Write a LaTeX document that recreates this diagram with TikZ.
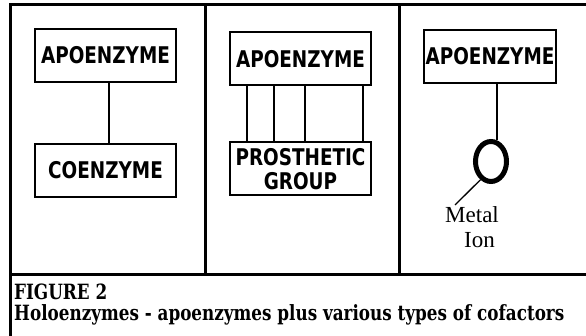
\documentclass[tikz,border=0pt]{standalone}
\usepackage{fontspec}
\newfontfamily\capfont[FakeStretch=0.8]{DejaVu Serif}
\newfontfamily\boxfont[FakeStretch=0.8]{DejaVu Sans}
\newfontfamily\ionfont{Liberation Serif}
\usetikzlibrary{shapes.geometric}

\begin{document}
\begin{tikzpicture}[x=1pt, y=-1pt,
    enzbox/.style={draw, line width=2pt, minimum width=141pt, minimum height=53pt, inner sep=0pt, align=center, font=\boxfont\bfseries\fontsize{23}{24}\selectfont},
    plain/.style={inner sep=0pt},
    link/.style={line width=2pt}]
  \useasboundingbox (0,0) rectangle (586,336);
  % frame and panels
  \draw[line width=3pt] (586,4.5) -- (10.5,4.5) -- (10.5,336);
  \draw[line width=3pt] (10.5,275) -- (586,275);
  \draw[line width=3pt] (205,4.5) -- (205,275);
  \draw[line width=3pt] (399,4.5) -- (399,275);

  % coenzyme
  \node[enzbox] (apo1) at (105.5,55.5) {APOENZYME};
  \node[enzbox, below of=apo1, node distance=115pt] (coenz) {COENZYME};
  \draw[link] (apo1.south -| 109,0) -- (coenz.north -| 109,0);

  % prosthetic group
  \node[enzbox] (apo2) at (300.5,59) {APOENZYME};
  \node[enzbox, below of=apo2, node distance=110pt] (pros) {PROSTHETIC\\GROUP};
  \foreach \x in {247,274,305,363}
    \draw[link] (apo2.south -| \x,0) -- (pros.north -| \x,0);

  % metal ion
  \node[enzbox, minimum width=132pt] (apo3) at (490,56.5) {APOENZYME};
  \node[ellipse, draw, line width=5pt, minimum width=31pt, minimum height=40pt, inner sep=0pt] (ion) at (491,161.5) {};
  \draw[link] (apo3.south -| ion.75) -- (ion.75);
  \node[plain, anchor=base west, font=\ionfont\fontsize{23}{24}\selectfont] (metal) at (445,223) {Metal};
  \node[plain, anchor=base west, font=\ionfont\fontsize{23}{24}\selectfont] (ionlbl) at (464,248) {Ion};
  \coordinate (pin) at (455,205);
  \draw[line width=1.3pt] (ion.240) -- (pin);

  % caption
  \node[plain, anchor=base west, font=\capfont\bfseries\fontsize{21}{22}\selectfont] (fig) at (14,300) {FIGURE 2};
  \node[plain, anchor=base west, font=\capfont\bfseries\fontsize{21}{22}\selectfont] (desc) at (14,321) {Holoenzymes - apoenzymes plus various types of cofactors};
\end{tikzpicture}
\end{document}
